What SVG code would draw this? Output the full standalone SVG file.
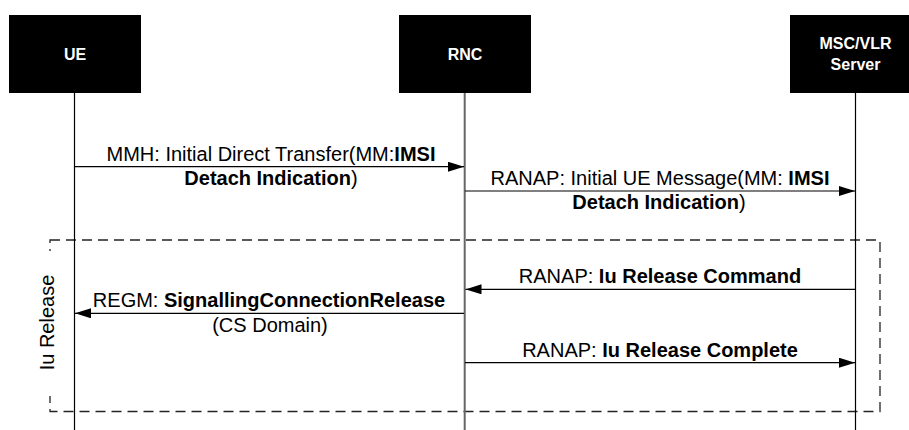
<svg xmlns="http://www.w3.org/2000/svg" width="909" height="430" viewBox="0 0 909 430">
<style>
.hdr{fill:#000}
.ht{font-family:"Liberation Sans",Arial,sans-serif;font-weight:bold;font-size:16px;fill:#fff;text-anchor:middle}
.life{stroke:#000;stroke-width:1.2}
.msg{stroke:#000;stroke-width:1.2;fill:none}
.t{font-family:"Liberation Sans",Arial,sans-serif;font-size:20px;fill:#000;text-anchor:middle}
.b{font-weight:bold}
.frame{fill:none;stroke:#222;stroke-width:1.3;stroke-dasharray:10,6}
</style>
<defs>
<marker id="ah" markerWidth="16" markerHeight="10" refX="16" refY="5" orient="auto" markerUnits="userSpaceOnUse">
<path d="M0,0 L16,5 L0,10 Z" fill="#000"/>
</marker>
</defs>
<rect width="909" height="430" fill="#fff"/>
<g id="frame-iu-release">
<rect class="frame" x="50" y="240" width="830" height="171.5"/>
<rect x="36" y="251" width="22" height="145" fill="#fff"/>
<text class="t" transform="translate(53.5,322.5) rotate(-90)">Iu Release</text>
</g>
<g id="ue">
<rect class="hdr" x="9" y="15" width="132" height="78"/>
<text class="ht" x="75" y="60">UE</text>
<line class="life" x1="74.5" y1="93" x2="74.5" y2="430"/>
</g>
<g id="rnc">
<rect class="hdr" x="399" y="15" width="132" height="78"/>
<text class="ht" x="465" y="60">RNC</text>
<line x1="464.7" y1="93" x2="464.7" y2="430" stroke="#666" stroke-width="2"/>
</g>
<g id="msc">
<rect class="hdr" x="790" y="15" width="132" height="78"/>
<text class="ht" x="855.5" y="49">MSC/VLR</text>
<text class="ht" x="855.5" y="70">Server</text>
<line class="life" x1="855.5" y1="93" x2="855.5" y2="430"/>
</g>
<g id="connectors">
<line class="msg" x1="75" y1="166.7" x2="464" y2="166.7" marker-end="url(#ah)"/>
<line class="msg" x1="465" y1="191" x2="855" y2="191" marker-end="url(#ah)"/>
<line class="msg" x1="855" y1="289.3" x2="465.5" y2="289.3" marker-end="url(#ah)"/>
<line class="msg" x1="464" y1="313.3" x2="75" y2="313.3" marker-end="url(#ah)"/>
<line class="msg" x1="465" y1="362.7" x2="855" y2="362.7" marker-end="url(#ah)"/>
</g>
<g id="labels">
<text class="t" x="271" y="160.5">MMH: Initial Direct Transfer(MM:<tspan class="b">IMSI</tspan></text>
<text class="t" x="271" y="185"><tspan class="b">Detach Indication</tspan>)</text>
<text class="t" x="660" y="185">RANAP: Initial UE Message(MM: <tspan class="b">IMSI</tspan></text>
<text class="t" x="659" y="209"><tspan class="b">Detach Indication</tspan>)</text>
<text class="t" x="660" y="282.5">RANAP: <tspan class="b">Iu Release Command</tspan></text>
<text class="t" x="269" y="307">REGM: <tspan class="b">SignallingConnectionRelease</tspan></text>
<text class="t" x="270" y="331.5">(CS Domain)</text>
<text class="t" x="660" y="356.5">RANAP: <tspan class="b">Iu Release Complete</tspan></text>
</g>
</svg>
